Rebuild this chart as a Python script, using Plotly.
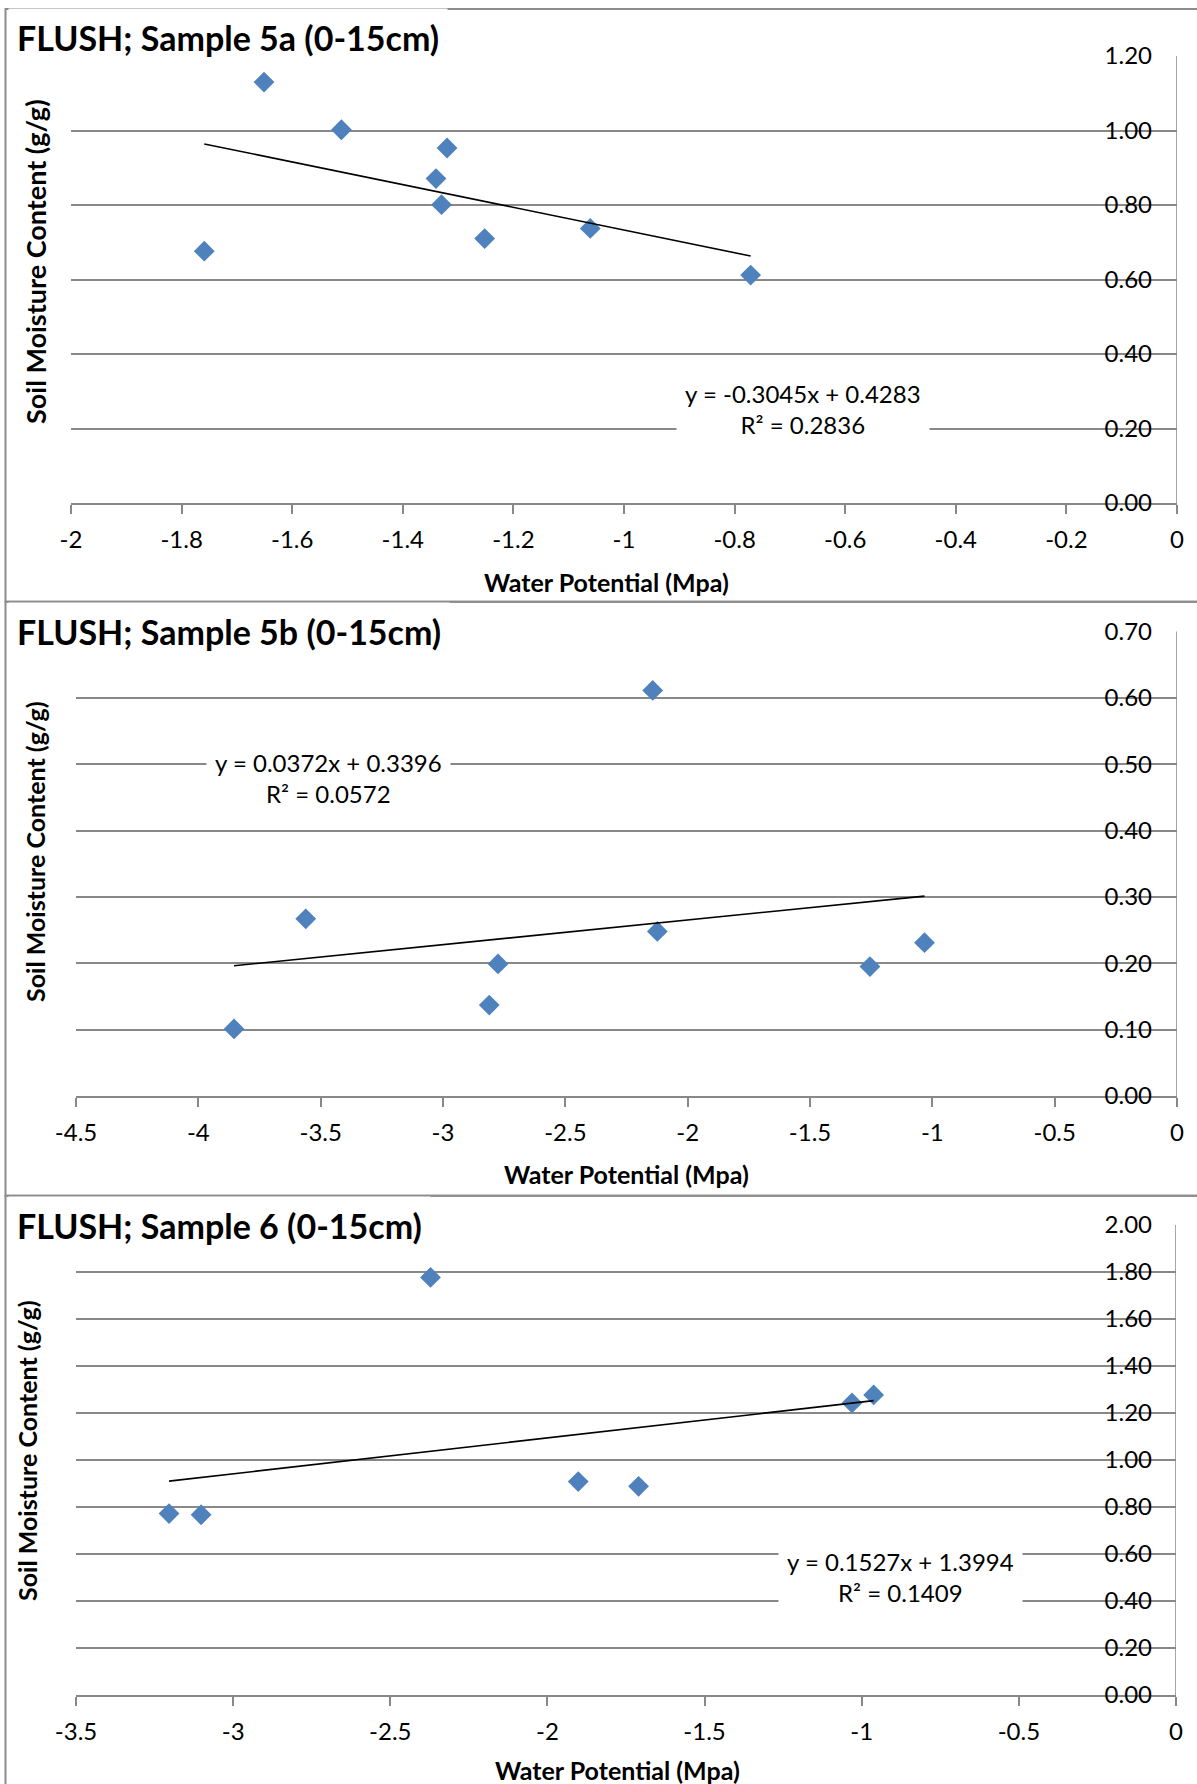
import plotly.graph_objects as go

W, H = 1197, 1784

# ---------------- data ----------------
titles = ["FLUSH; Sample 5a (0-15cm)", "FLUSH; Sample 5b (0-15cm)", "FLUSH; Sample 6 (0-15cm)"]

x_5a = [-1.651, -1.511, -1.320, -1.340, -1.330, -1.252, -1.061, -0.771, -1.759]
y_5a = [1.130, 1.002, 0.953, 0.871, 0.801, 0.710, 0.737, 0.612, 0.676]

x_5b = [-2.143, -3.561, -2.124, -2.775, -2.811, -3.854, -1.255, -1.032]
y_5b = [0.611, 0.267, 0.248, 0.199, 0.137, 0.101, 0.195, 0.231]

x_6 = [-2.372, -0.962, -1.031, -1.902, -1.710, -3.204, -3.102]
y_6 = [1.777, 1.277, 1.243, 0.908, 0.888, 0.772, 0.767]

slopes = [-0.3045, 0.0372, 0.1527]
intercepts = [0.4283, 0.3396, 1.3994]
r2_values = ["0.2836", "0.0572", "0.1409"]

x_tick_labels = [
    ["-2", "-1.8", "-1.6", "-1.4", "-1.2", "-1", "-0.8", "-0.6", "-0.4", "-0.2", "0"],
    ["-4.5", "-4", "-3.5", "-3", "-2.5", "-2", "-1.5", "-1", "-0.5", "0"],
    ["-3.5", "-3", "-2.5", "-2", "-1.5", "-1", "-0.5", "0"],
]
x_ranges = [[-2, 0], [-4.5, 0], [-3.5, 0]]
y_ranges = [[0, 1.2], [0, 0.7], [0, 2.0]]
y_dticks = [0.2, 0.1, 0.2]

x_title = "Water Potential (Mpa)"
y_title = "Soil Moisture Content (g/g)"

# ---------------- layout geometry (pixels) ----------------
plot_x0 = [71, 76, 76]
plot_x1 = [1177, 1177, 1176]
plot_top = [56, 631.4, 1225]
plot_bot = [503, 1096, 1695]
panel_tops = [9, 601.7, 1195.7]
title_cy = [37.5, 631.7, 1225]
ytitle_pos = [(35, 262), (35, 852), (27, 1451)]
ytitle_size = [27, 25, 25]
xtitle_pos = [(606, 582), (626, 1174), (617, 1770)]
eq_pos = [(803, 409), (328, 778), (900, 1577)]
ylabel_right = 1152

def px(v):
    return v / W

def py(v):
    return 1 - v / H

GRID = "#888888"
FONT = "Lato"
MARK = "#4F81BD"

datasets = [(x_5a, y_5a), (x_5b, y_5b), (x_6, y_6)]

fig = go.Figure()
annotations = []
shapes = []

for i, (xs, ys) in enumerate(datasets):
    n = "" if i == 0 else str(i + 1)
    xa = "x" + n
    ya = "y" + n
    fig.add_trace(go.Scatter(
        x=xs, y=ys, mode="markers", xaxis=xa, yaxis=ya,
        marker=dict(symbol="diamond", size=16, color=MARK, line=dict(width=0)),
        showlegend=False, hoverinfo="x+y"))
    xmin, xmax = min(xs), max(xs)
    fig.add_trace(go.Scatter(
        x=[xmin, xmax],
        y=[slopes[i] * xmin + intercepts[i], slopes[i] * xmax + intercepts[i]],
        mode="lines", xaxis=xa, yaxis=ya,
        line=dict(color="black", width=1.6), showlegend=False, hoverinfo="skip"))

    fig.layout["xaxis" + n] = dict(
        domain=[px(plot_x0[i]), px(plot_x1[i])],
        anchor=ya, range=x_ranges[i],
        tickmode="array", tickvals=[float(t) for t in x_tick_labels[i]],
        ticktext=x_tick_labels[i],
        showgrid=False, zeroline=False, automargin=False,
        showline=True, linecolor=GRID, linewidth=1.5,
        ticks="outside", ticklen=9, tickcolor=GRID, tickwidth=1.5,
        ticklabelstandoff=5,
        tickfont=dict(family=FONT, size=24, color="black"),
        fixedrange=True)
    fig.layout["yaxis" + n] = dict(
        domain=[py(plot_bot[i]), py(plot_top[i])],
        anchor="free", position=px(ylabel_right), side="left",
        range=y_ranges[i], dtick=y_dticks[i], tick0=0,
        tickformat=".2f", automargin=False,
        showgrid=True, gridcolor=GRID, gridwidth=1.5,
        zeroline=False, showline=False,
        ticks="", tickfont=dict(family=FONT, size=24, color="black"),
        fixedrange=True)

    # right-hand vertical axis line at x = 0
    shapes.append(dict(
        type="line", xref=xa, yref=ya + " domain",
        x0=x_ranges[i][1], x1=x_ranges[i][1], y0=0, y1=1,
        line=dict(color=GRID, width=1.5), layer="above"))

    # panel title
    annotations.append(dict(
        xref="paper", yref="paper", x=px(16 - 8), y=py(title_cy[i]),
        xanchor="left", yanchor="middle", showarrow=False,
        text="<b>" + titles[i] + "</b>", bgcolor="white", borderpad=8,
        font=dict(family=FONT, size=34, color="black")))
    # axis titles
    annotations.append(dict(
        xref="paper", yref="paper", x=px(ytitle_pos[i][0]), y=py(ytitle_pos[i][1]),
        xanchor="center", yanchor="middle", showarrow=False, textangle=-90,
        text="<b>" + y_title + "</b>",
        font=dict(family=FONT, size=ytitle_size[i], color="black")))
    annotations.append(dict(
        xref="paper", yref="paper", x=px(xtitle_pos[i][0]), y=py(xtitle_pos[i][1]),
        xanchor="center", yanchor="middle", showarrow=False,
        text="<b>" + x_title + "</b>",
        font=dict(family=FONT, size=25, color="black")))
    # trendline equation
    sign = "+" if intercepts[i] >= 0 else "-"
    eq = "y = %.4fx %s %.4f<br>R² = %s" % (slopes[i], sign, abs(intercepts[i]), r2_values[i])
    annotations.append(dict(
        xref="paper", yref="paper", x=px(eq_pos[i][0]), y=py(eq_pos[i][1]),
        xanchor="center", yanchor="middle", showarrow=False,
        text=eq, bgcolor="white", borderpad=8, align="center",
        font=dict(family=FONT, size=24, color="black")))

    # panel border
    bot = panel_tops[i + 1] if i < 2 else H + 20
    shapes.append(dict(
        type="rect", xref="paper", yref="paper",
        x0=px(5.5), x1=px(W + 20), y0=py(bot), y1=py(panel_tops[i]),
        line=dict(color="#8C8C8C", width=2), fillcolor="rgba(0,0,0,0)", layer="below"))

fig.update_layout(
    width=W, height=H,
    margin=dict(l=0, r=0, t=0, b=0, pad=0, autoexpand=False),
    paper_bgcolor="white", plot_bgcolor="white",
    annotations=annotations, shapes=shapes,
    showlegend=False)

fig.write_html("out.html", config={"displayModeBar": False},
               post_script="document.body.style.margin='0px';")
